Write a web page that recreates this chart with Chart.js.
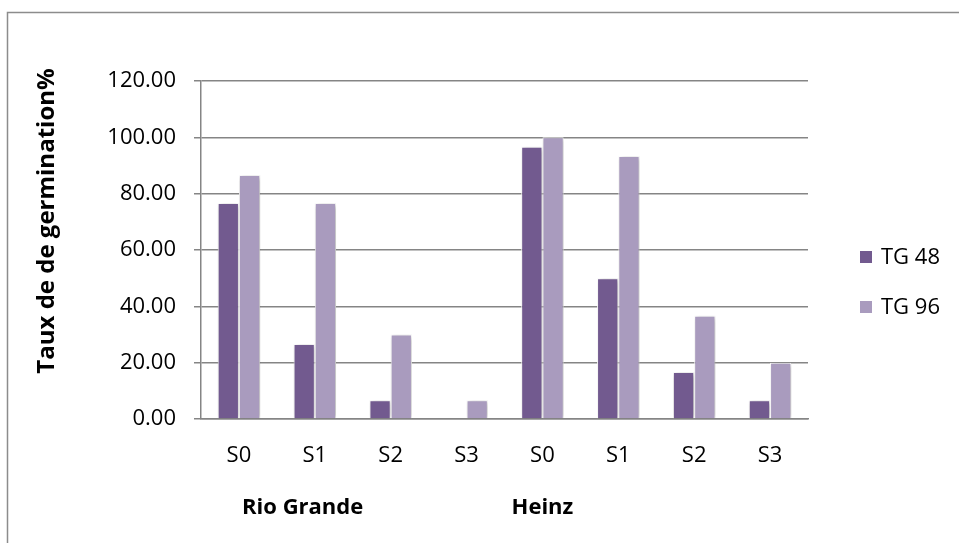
<!DOCTYPE html>
<html>
<head>
<meta charset="utf-8">
<script src="https://cdn.jsdelivr.net/npm/chart.js@4.4.1/dist/chart.umd.min.js"></script>
<style>
  html, body { margin: 0; padding: 0; background: #ffffff; }
  #wrap { width: 959px; height: 543px; position: relative; }
</style>
</head>
<body>
<div id="wrap"><canvas id="chart" width="959" height="543"></canvas></div>
<script>
// Germination rate per treatment level, two cultivars, two reading times
const categories = ['S0', 'S1', 'S2', 'S3', 'S0', 'S1', 'S2', 'S3'];
const cultivars = ['Rio Grande', 'Heinz'];
const seriesNames = ['TG 48', 'TG 96'];
const tg48 = [76.67, 26.67, 6.67, 0.00, 96.67, 50.00, 16.67, 6.67];
const tg96 = [86.67, 76.67, 30.00, 6.67, 100.00, 93.33, 36.67, 20.00];
const yTicks = [0, 20, 40, 60, 80, 100, 120];
const yTitle = 'Taux de de germination%';

const FONT = '"Open Sans", "Noto Sans", sans-serif';
const GRID = '#858585';
const colors = ['#725a8f', '#a99bbe'];

// Soft drop shadow behind the bars
const barShadow = {
  id: 'barShadow',
  beforeDatasetsDraw(chart) {
    const ctx = chart.ctx;
    ctx.save();
    ctx.shadowColor = 'rgba(0,0,0,0.3)';
    ctx.shadowBlur = 5;
    ctx.shadowOffsetX = 1.5;
    ctx.shadowOffsetY = 1;
  },
  afterDatasetsDraw(chart) {
    chart.ctx.restore();
  }
};

// Frame, rotated axis title, cultivar names and legend
const decorations = {
  id: 'decorations',
  beforeDraw(chart) {
    const ctx = chart.ctx;
    ctx.save();
    ctx.fillStyle = '#ffffff';
    ctx.fillRect(0, 0, chart.width, chart.height);
    ctx.strokeStyle = '#8c8c8c';
    ctx.lineWidth = 1.5;
    ctx.beginPath();
    ctx.moveTo(7.5, chart.height + 5);
    ctx.lineTo(7.5, 12.5);
    ctx.lineTo(chart.width + 5, 12.5);
    ctx.stroke();
    ctx.restore();
  },
  afterDraw(chart) {
    const ctx = chart.ctx;
    const x = chart.scales.x;
    ctx.save();
    ctx.fillStyle = '#000000';

    // y axis title
    ctx.save();
    ctx.translate(47, 221);
    ctx.rotate(-Math.PI / 2);
    ctx.font = 'bold 24px ' + FONT;
    ctx.textAlign = 'center';
    ctx.textBaseline = 'middle';
    ctx.fillText(yTitle, 0, 0);
    ctx.restore();

    // cultivar names under the category labels
    ctx.font = 'bold 22px ' + FONT;
    ctx.textBaseline = 'middle';
    ctx.textAlign = 'center';
    const step = x.getPixelForValue(1) - x.getPixelForValue(0);
    ctx.fillText(cultivars[0], x.getPixelForValue(0) + step * 0.84, 508);
    ctx.fillText(cultivars[1], x.getPixelForValue(4), 508);

    // legend
    ctx.font = '22px ' + FONT;
    ctx.textAlign = 'left';
    const ly = [257, 307];
    seriesNames.forEach((name, i) => {
      ctx.fillStyle = colors[i];
      ctx.fillRect(860, ly[i] - 6, 12, 12);
      ctx.fillStyle = '#000000';
      ctx.fillText(name, 881, ly[i] + 1);
    });
    ctx.restore();
  }
};

new Chart(document.getElementById('chart'), {
  type: 'bar',
  data: {
    labels: categories,
    datasets: [
      { label: seriesNames[0], data: tg48, backgroundColor: colors[0], borderColor: '#ffffff', borderWidth: 1 },
      { label: seriesNames[1], data: tg96, backgroundColor: colors[1], borderColor: '#ffffff', borderWidth: 1 }
    ]
  },
  options: {
    responsive: false,
    animation: false,
    devicePixelRatio: 1,
    layout: { padding: { top: 81, right: 151, left: 0, bottom: 0 } },
    datasets: { bar: { categoryPercentage: 0.56, barPercentage: 1.0 } },
    plugins: { legend: { display: false }, tooltip: { enabled: false } },
    scales: {
      x: {
        afterFit(scale) { scale.height = 124; },
        grid: { display: false, drawTicks: false },
        border: { display: true, color: GRID, width: 1.5 },
        ticks: { color: '#000000', font: { family: FONT, size: 22 }, padding: 24, maxRotation: 0 }
      },
      y: {
        min: 0,
        max: 120,
        afterFit(scale) { scale.width = 201; },
        afterBuildTicks(scale) { scale.ticks = yTicks.map(v => ({ value: v })); },
        grid: { color: GRID, lineWidth: 1.5, tickLength: 7, tickColor: GRID },
        border: { display: true, color: GRID, width: 1.5 },
        ticks: {
          color: '#000000',
          font: { family: FONT, size: 22 },
          padding: 18,
          callback: v => Number(v).toFixed(2)
        }
      }
    }
  },
  plugins: [barShadow, decorations]
});
</script>
</body>
</html>
